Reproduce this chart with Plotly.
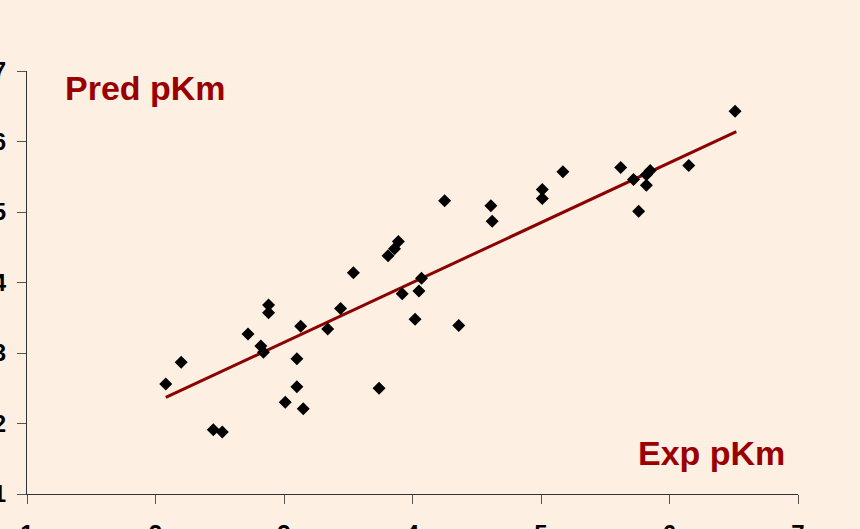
import plotly.graph_objects as go

# Experimental vs predicted pKm
exp_pkm = [2.08, 2.20, 2.45, 2.52, 2.72, 2.82, 2.84, 2.88, 2.88, 3.01,
           3.10, 3.10, 3.15, 3.13, 3.34, 3.44, 3.54, 3.74, 3.81, 3.86,
           3.89, 3.92, 4.02, 4.05, 4.07, 4.25, 4.36, 4.61, 4.62, 5.01,
           5.01, 5.17, 5.62, 5.72, 5.76, 5.82, 5.82, 5.85, 6.15, 6.51]
pred_pkm = [2.56, 2.87, 1.91, 1.88, 3.27, 3.10, 3.01, 3.68, 3.57, 2.30,
            2.92, 2.52, 2.21, 3.38, 3.34, 3.63, 4.14, 2.50, 4.38, 4.48,
            4.58, 3.84, 3.48, 3.88, 4.06, 5.16, 3.39, 5.09, 4.87, 5.32,
            5.19, 5.57, 5.63, 5.46, 5.01, 5.38, 5.53, 5.59, 5.66, 6.43]

# Regression line end points
trend_x = [2.08, 6.52]
trend_y = [2.37, 6.14]

tick_vals = [1, 2, 3, 4, 5, 6, 7]
tick_text = ["1", "2", "3", "4", "5", "6", "7"]

BG = "rgb(253,239,226)"
RED = "#990000"

fig = go.Figure()
fig.add_trace(go.Scatter(x=trend_x, y=trend_y, mode="lines",
                         line=dict(color="#8b0000", width=3), showlegend=False,
                         hoverinfo="skip"))
fig.add_trace(go.Scatter(x=exp_pkm, y=pred_pkm, mode="markers",
                         marker=dict(symbol="diamond", size=10, color="black"),
                         showlegend=False))

axis_common = dict(range=[1, 7], tickvals=tick_vals, ticktext=tick_text,
                   showgrid=False, zeroline=False, showline=True,
                   linecolor="#333", linewidth=1, ticks="outside",
                   ticklen=9, tickcolor="#555", tickwidth=1, automargin=False,
                   tickfont=dict(family="Liberation Sans", size=24, color="black",
                                 weight="bold"))

fig.update_layout(
    width=860, height=529,
    margin=dict(l=27, r=62, t=71, b=35),
    paper_bgcolor=BG, plot_bgcolor=BG,
    xaxis=dict(**axis_common, ticklabelstandoff=9),
    yaxis=dict(**axis_common, ticklabelstandoff=6),
    annotations=[
        dict(text="<b>Pred pKm</b>", x=1.28, y=6.763, xref="x", yref="y",
             xanchor="left", yanchor="middle", showarrow=False,
             font=dict(family="Liberation Sans", size=34, color=RED)),
        dict(text="<b>Exp pKm</b>", x=5.74, y=1.582, xref="x", yref="y",
             xanchor="left", yanchor="middle", showarrow=False,
             font=dict(family="Liberation Sans", size=34, color=RED)),
    ],
)

fig.write_html(
    "out.html",
    config={"displayModeBar": False},
    post_script="document.body.style.margin='0';"
                "document.body.style.background='rgb(253,239,226)';",
)
